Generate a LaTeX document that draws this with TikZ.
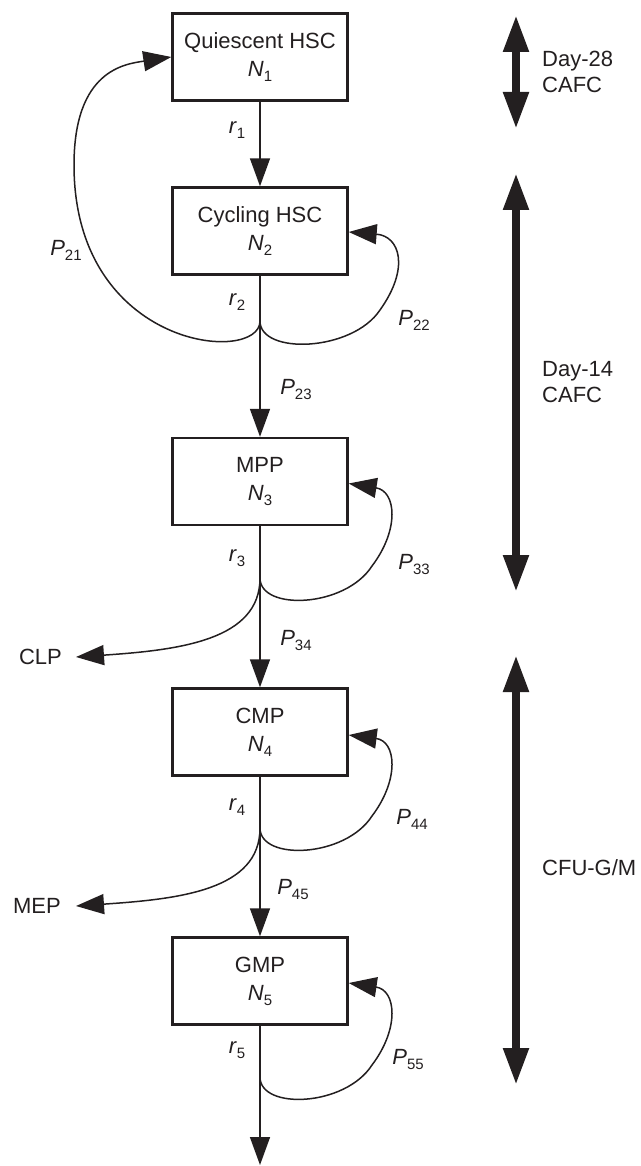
\documentclass[tikz,border=0pt]{standalone}
\usepackage{fontspec}
\setmainfont{Liberation Sans}
\usetikzlibrary{arrows.meta}
\definecolor{ink}{RGB}{35,31,32}
\newcommand{\sub}[2]{\textit{#1}\raisebox{-5pt}{\fontsize{15}{15}\selectfont #2}}
\begin{document}
\begin{tikzpicture}[x=1pt,y=-1pt,
  every node/.style={text=ink,font=\fontsize{22}{30}\selectfont},
  cell/.style={draw=ink,line width=2.4pt,minimum width=175pt,minimum height=87pt,align=center,inner sep=0pt},
  conn/.style={draw=ink,line width=1.5pt,-{Triangle[length=28pt,width=20pt]}},
  curve/.style={draw=ink,line width=1.5pt},
  scalebar/.style={draw=ink,line width=8pt,{Triangle[length=37pt,width=24pt]}-{Triangle[length=37pt,width=24pt]}},
  lab/.style={inner sep=0pt},
  side/.style={align=left,anchor=west,inner sep=0pt}]
\useasboundingbox (0,0) rectangle (640,1166);
% boxes
\node[cell] (b1) at (260,57) {Quiescent HSC\\[-2pt]\textit{N}\raisebox{-5pt}{\fontsize{15}{15}\selectfont 1}};
\node[cell] (b2) at (260,231) {Cycling HSC\\[-2pt]\sub{N}{2}};
\node[cell] (b3) at (260,481.5) {MPP\\[-2pt]\sub{N}{3}};
\node[cell] (b4) at (260,732) {CMP\\[-2pt]\sub{N}{4}};
\node[cell] (b5) at (260,981) {GMP\\[-2pt]\sub{N}{5}};
% junctions
\coordinate (j2) at (260,321);
\coordinate (j3) at (260,578);
\coordinate (j4) at (260,828);
\coordinate (j5) at (260,1077);
\coordinate (endp) at (260,1165);
\coordinate (clpt) at (76,657);
\coordinate (mept) at (76,906);
% vertical arrows
\draw[conn] (b1.south) -- (b2.north);
\draw[conn] (b2.south) -- (b3.north);
\draw[conn] (b3.south) -- (b4.north);
\draw[conn] (b4.south) -- (b5.north);
\draw[conn] (b5.south) -- (endp);
% P21
\draw[conn] (j2) .. controls (260,365) and (74,350) .. (74,165) .. controls (74,70) and (125,64) .. (b1.west);
% P22
\draw[conn] (j2) .. controls (260,355) and (352,352) .. (380,310) .. controls (410,268) and (400,236) .. ([yshift=-1pt]b2.east);
% P33
\draw[conn] (j3) .. controls (260,611) and (345,608) .. (372,566) .. controls (400,529) and (396,491) .. ([yshift=-2pt]b3.east);
% P44
\draw[conn] (j4) .. controls (260,861) and (345,858) .. (372,816) .. controls (400,779) and (396,741) .. ([yshift=-3pt]b4.east);
% P55
\draw[conn] (j5) .. controls (260,1110) and (345,1107) .. (372,1065) .. controls (400,1028) and (396,990) .. ([yshift=-2pt]b5.east);
% CLP / MEP
\draw[conn] (j3) .. controls (260,640) and (180,650) .. (clpt);
\draw[conn] (j4) .. controls (260,890) and (180,899) .. (mept);
\node[anchor=east,inner sep=0pt] (clp) at (62,657) {CLP};
\node[anchor=east,inner sep=0pt] (mep) at (61,906) {MEP};
% labels
\node[lab] (r1) at (237,130) {\sub{r}{1}};
\node[lab] (r2) at (237,302) {\sub{r}{2}};
\node[lab] (r3) at (237,558) {\sub{r}{3}};
\node[lab] (r4) at (237,807) {\sub{r}{4}};
\node[lab] (r5) at (237,1050) {\sub{r}{5}};
\node[lab] (p21) at (66,250) {\sub{P}{21}};
\node[lab] (p22) at (414,320) {\sub{P}{22}};
\node[lab] (p23) at (296,390) {\sub{P}{23}};
\node[lab] (p33) at (414,565) {\sub{P}{33}};
\node[lab] (p34) at (296,640) {\sub{P}{34}};
\node[lab] (p44) at (412,819) {\sub{P}{44}};
\node[lab] (p45) at (293,889) {\sub{P}{45}};
\node[lab] (p55) at (408,1059) {\sub{P}{55}};
% scale bars
\coordinate (s1a) at (516,15);
\coordinate (s1b) at (516,129);
\coordinate (s2a) at (516,173);
\coordinate (s2b) at (516,592);
\coordinate (s3a) at (516,655);
\coordinate (s3b) at (516,1085);
\draw[scalebar] (s1a) -- (s1b);
\draw[scalebar] (s2a) -- (s2b);
\draw[scalebar] (s3a) -- (s3b);
\node[side] (t1) at (542,72) {Day-28\\[-4pt]CAFC};
\node[side] (t2) at (542,382) {Day-14\\[-4pt]CAFC};
\node[side] (t3) at (542,868) {CFU-G/M};
\end{tikzpicture}
\end{document}
